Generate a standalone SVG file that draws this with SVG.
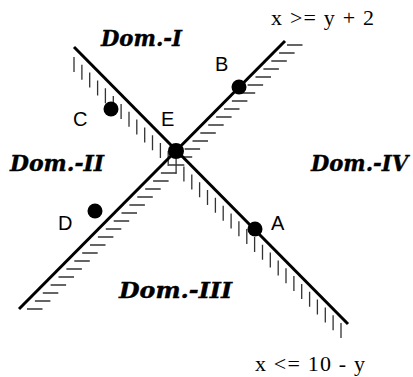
<svg xmlns="http://www.w3.org/2000/svg" width="413" height="377" viewBox="0 0 413 377">
<style>
.line{stroke:#000;stroke-width:3;fill:none;stroke-linecap:butt}
.hatch{stroke:#333;stroke-width:1.3;fill:none}
.dot{fill:#000}
.pt{font-family:"Liberation Sans",Arial,sans-serif;font-size:20px;fill:#000}
.dom{font-family:"DejaVu Serif",serif;font-weight:bold;font-style:italic;font-size:21.5px;fill:#000;stroke:#000;stroke-width:0.4}
.eq{font-family:"Liberation Serif","Times New Roman",serif;font-size:22px;fill:#000}
</style>
<rect width="413" height="377" fill="#fff"/>
<g id="connectors">
<path class="hatch" d="M74 57v15M81.9 64.8v15M89.7 72.6v15M97.6 80.5v15M105.4 88.3v15M113.3 96.1v15M121.1 103.9v15M129 111.8v15M136.8 119.6v15M144.7 127.4v15M152.5 135.2v15M160.4 143.1v15M168.2 150.9v15M176.1 158.7v15M183.9 166.5v15M191.8 174.4v15M199.6 182.2v15M207.5 190v15M215.4 197.8v15M223.2 205.7v15M231.1 213.5v15M238.9 221.3v15M246.8 229.1v15M254.6 237v15M262.5 244.8v15M270.3 252.6v15M278.2 260.4v15M286 268.2v15M293.9 276.1v15M301.7 283.9v15M309.6 291.7v15M317.4 299.5v15M325.3 307.4v15M333.1 315.2v15M341 323v15"/>
<path class="hatch" d="M27 309h15.5M34.9 301h15.5M42.8 293h15.5M50.6 285h15.5M58.5 277h15.5M66.4 269h15.5M74.3 261h15.5M82.2 253h15.5M90 245h15.5M97.9 237h15.5M105.8 229h15.5M113.7 221h15.5M121.5 213h15.5M129.4 205h15.5M137.3 197h15.5M145.2 189h15.5M153.1 181h15.5M160.9 173h15.5M168.8 165h15.5M176.7 157h15.5M184.6 149h15.5M192.5 141h15.5M200.3 133h15.5M208.2 125h15.5M216.1 117h15.5M224 109h15.5M231.9 101h15.5M239.7 93h15.5M247.6 85h15.5M255.5 77h15.5M263.4 69h15.5M271.3 61h15.5M279.1 53h15.5M287 45h15.5"/>
<line id="line-x-le-10-y" class="line" x1="74" y1="47" x2="348" y2="324"/>
<line id="line-x-ge-y-2" class="line" x1="19" y1="309" x2="285" y2="41"/>
</g>
<g id="node-A"><circle class="dot" cx="255" cy="229" r="7.5"/><text class="pt" x="271" y="230">A</text></g>
<g id="node-B"><circle class="dot" cx="239" cy="87" r="7.5"/><text class="pt" x="215" y="71">B</text></g>
<g id="node-C"><circle class="dot" cx="111" cy="109" r="7.5"/><text class="pt" x="73" y="126">C</text></g>
<g id="node-D"><circle class="dot" cx="95" cy="211" r="7.5"/><text class="pt" x="58" y="230">D</text></g>
<g id="node-E"><circle class="dot" cx="176" cy="151" r="8"/><text class="pt" x="161" y="126">E</text></g>
<g id="labels">
<text class="dom" x="101" y="46" textLength="81" lengthAdjust="spacingAndGlyphs">Dom.-I</text>
<text class="dom" x="10" y="171" textLength="94" lengthAdjust="spacingAndGlyphs">Dom.-II</text>
<text class="dom" x="119" y="298" textLength="113" lengthAdjust="spacingAndGlyphs">Dom.-III</text>
<text class="dom" x="311" y="171" textLength="97" lengthAdjust="spacingAndGlyphs">Dom.-IV</text>
<text class="eq" x="271" y="25" textLength="103">x &gt;= y + 2</text>
<text class="eq" x="255" y="371" textLength="110">x &lt;= 10 - y</text>
</g>
</svg>
